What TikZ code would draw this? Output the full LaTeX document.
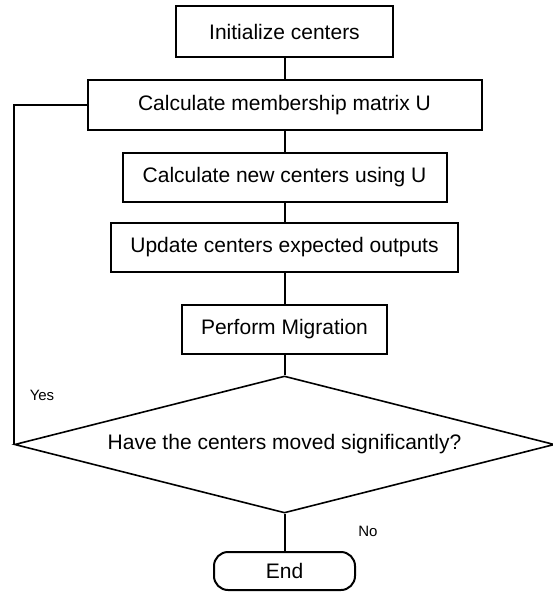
\documentclass[tikz,border=0pt]{standalone}
\usepackage{fontspec}
\setmainfont{Liberation Sans}
\usetikzlibrary{shapes.geometric}
\newcommand{\flowfont}{\fontsize{21}{25}\selectfont}
\newcommand{\flowsmall}{\fontsize{15}{18}\selectfont}

\begin{document}
\begin{tikzpicture}[x=1pt, y=-1pt,
  every node/.style={font=\flowfont},
  stepbox/.style={draw, line width=2pt, minimum height=49pt, inner sep=0pt},
  link/.style={line width=2pt}]
\useasboundingbox (0,0) rectangle (552,594);
% Process steps
\node[stepbox, minimum width=217pt, minimum height=51pt] (init) at (284.5,31.5) {Initialize centers};
\node[stepbox, minimum width=394pt, minimum height=50pt] (memb) at (284.5,105) {Calculate membership matrix U};
\node[stepbox, minimum width=324pt] (newc) at (284.5,177.5) {Calculate new centers using U};
\node[stepbox, minimum width=347pt] (upd) at (284.5,247.5) {Update centers expected outputs};
\node[stepbox, minimum width=205pt] (migr) at (284.5,329.5) {Perform Migration};
% Decision
\node[draw, diamond, line width=1.6pt, shape aspect=3.94, minimum width=540pt,
  minimum height=137pt, inner sep=0pt] (moved) at (284.5,444.5) {Have the centers moved significantly?};
% Terminal
\node[draw, line width=2pt, rounded corners=14pt, minimum width=141pt,
  minimum height=38pt] (stop) at (284.5,571) {End};
% Connectors
\draw[link] (init.south) -- (memb.north);
\draw[link] (memb.south) -- (newc.north);
\draw[link] (newc.south) -- (upd.north);
\draw[link] (upd.south) -- (migr.north);
\draw[link] (migr.south) -- (moved.north);
\draw[link] (moved.south) -- (stop.north);
\draw[link] (moved.west) |- (memb.west);
% Branch labels
\node[font=\flowsmall] (yes) at (42,395) {Yes};
\node[font=\flowsmall] (no) at (368,531) {No};
\end{tikzpicture}
\end{document}
